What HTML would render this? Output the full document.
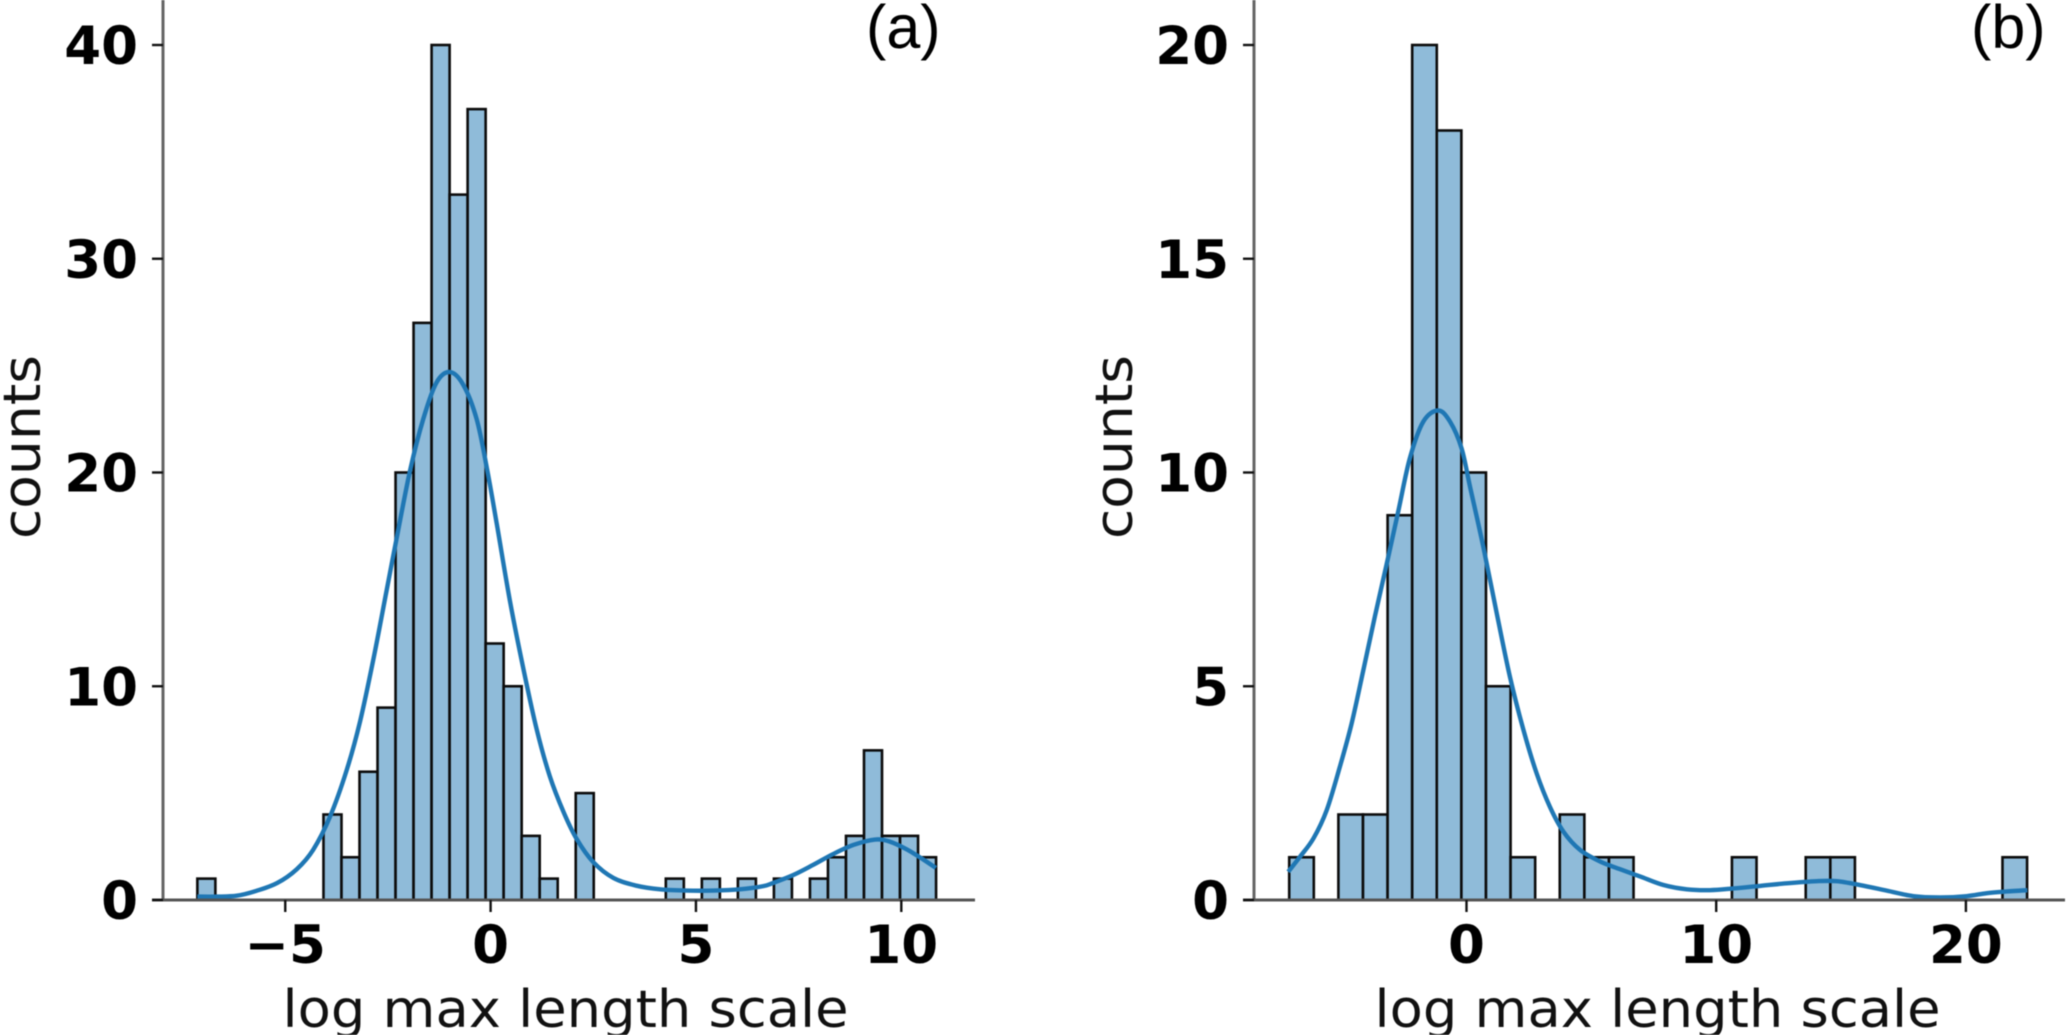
<!DOCTYPE html>
<html lang="en">
<head>
<meta charset="utf-8">
<title>Histograms of log max length scale</title>
<style>
html,body{margin:0;padding:0;background:#fff;width:2067px;height:1035px;overflow:hidden}
svg{display:block;filter:blur(0.5px)}
.tick-label{font-family:"DejaVu Sans","Liberation Sans",sans-serif;font-weight:700;font-size:53px;fill:#000}
.axis-title{font-family:"DejaVu Sans","Liberation Sans",sans-serif;font-size:52px;fill:#111}
.panel-label{font-family:"Liberation Sans",sans-serif;font-size:61px;fill:#000}
</style>
</head>
<body>
<svg id="chart" xmlns="http://www.w3.org/2000/svg" width="2067" height="1035" viewBox="0 0 2067 1035"></svg>
<script>
// Panel (a) data
const aBinStart = -7.14;
const aBinWidth = 0.4387;
const aCounts = [1,0,0,0,0,0,0,4,2,6,9,20,27,40,33,37,12,10,3,1,0,5,0,0,0,0,1,0,1,0,1,0,1,0,1,2,3,7,3,3,2];
const aXTicks = [-5,0,5,10];
const aXTickLabels = ["\u22125","0","5","10"];
const aYTicks = [0,10,20,30,40];
const aYTickLabels = ["0","10","20","30","40"];
const aKdeX = [-7.14,-6.67,-6.18,-5.70,-5.20,-4.72,-4.32,-3.91,-3.51,-3.18,-2.85,-2.53,-2.29,-1.96,-1.64,-1.32,-0.99,-0.665,-0.34,-0.09,0.15,0.47,0.80,1.12,1.44,1.78,2.10,2.50,2.99,3.55,4.13,4.77,5.42,6.07,6.64,6.88,7.37,7.85,8.34,8.84,9.36,9.72,10.13,10.53,10.84];
const aKdeY = [0.16,0.16,0.2,0.43,0.79,1.44,2.35,3.9,6.04,8.34,11.3,14.5,16.9,20.1,22.5,24.2,24.7,24.1,22.5,20.2,17.6,14.0,10.8,8.0,5.8,4.1,2.84,1.77,1.03,0.67,0.5,0.44,0.44,0.5,0.65,0.8,1.17,1.64,2.15,2.58,2.83,2.73,2.37,1.9,1.5];

// Panel (b) data
const bBinStart = -7.1;
const bBinWidth = 0.985;
const bCounts = [1,0,2,2,9,20,18,10,5,1,0,2,1,1,0,0,0,0,1,0,0,1,1,0,0,0,0,0,0,1];
const bXTicks = [0,10,20];
const bXTickLabels = ["0","10","20"];
const bYTicks = [0,5,10,15,20];
const bYTickLabels = ["0","5","10","15","20"];
const bKdeX = [-7.14,-6.67,-6.13,-5.6,-5.07,-4.6,-4.13,-3.67,-3.2,-2.73,-2.27,-1.73,-1.13,-0.66,-0.2,0.14,0.67,1.21,1.74,2.28,2.81,3.34,3.88,4.55,5.35,6.15,6.95,7.89,8.82,9.75,10.69,11.76,12.82,14.03,14.83,15.76,16.83,17.9,18.97,20.03,20.84,21.64,22.46];
const bKdeY = [0.66,1.01,1.44,2.1,3.12,4.13,5.38,6.63,7.85,9.1,10.33,11.19,11.45,11.19,10.57,9.67,8.27,6.71,5.22,3.98,2.96,2.18,1.6,1.17,0.9,0.72,0.55,0.35,0.25,0.23,0.27,0.33,0.39,0.44,0.44,0.35,0.22,0.09,0.06,0.09,0.16,0.2,0.23];

const xAxisTitle = "log max length scale";
const yAxisTitle = "counts";
const SVG_NS = "http://www.w3.org/2000/svg";
const chart = document.getElementById("chart");

function make(tag, attrs, parent) {
  const el = document.createElementNS(SVG_NS, tag);
  for (const k in attrs) el.setAttribute(k, attrs[k]);
  parent.appendChild(el);
  return el;
}

function smoothPath(pts) {
  let d = "M" + pts[0][0].toFixed(2) + "," + pts[0][1].toFixed(2);
  for (let i = 0; i < pts.length - 1; i++) {
    const p0 = pts[Math.max(i - 1, 0)];
    const p1 = pts[i];
    const p2 = pts[i + 1];
    const p3 = pts[Math.min(i + 2, pts.length - 1)];
    const c1x = p1[0] + (p2[0] - p0[0]) / 6;
    const c1y = p1[1] + (p2[1] - p0[1]) / 6;
    const c2x = p2[0] - (p3[0] - p1[0]) / 6;
    const c2y = p2[1] - (p3[1] - p1[1]) / 6;
    d += "C" + c1x.toFixed(2) + "," + c1y.toFixed(2) + " " + c2x.toFixed(2) + "," + c2y.toFixed(2) + " " + p2[0].toFixed(2) + "," + p2[1].toFixed(2);
  }
  return d;
}

function drawPanel(cfg) {
  const g = make("g", {}, chart);
  
  
  const sx = v => cfg.x0 + v * cfg.xScale;
  const sy = v => cfg.yBase - v * cfg.yScale;

  cfg.counts.forEach((c, i) => {
    const left = sx(cfg.binStart + i * cfg.binWidth);
    const right = sx(cfg.binStart + (i + 1) * cfg.binWidth);
    const bar = make("rect", {x: left, y: sy(c), width: right - left, height: sy(0) - sy(c), fill: "#8fbbd9", stroke: "#0c0c0c", "stroke-width": 2.6}, g);
    
    
  });

  const pts = cfg.kdeX.map((x, i) => [sx(x), sy(cfg.kdeY[i])]);
  const kde = make("path", {d: smoothPath(pts), fill: "none", stroke: "#1f77b4", "stroke-width": 4.4, "stroke-linejoin": "round"}, g);
  
  

  const ySpine = make("line", {x1: cfg.spineX, x2: cfg.spineX, y1: 0, y2: cfg.yBase + 1.5, stroke: "#666", "stroke-width": 3}, g);
  
  
  const xSpine = make("line", {x1: cfg.spineX - 11, x2: cfg.spineEnd, y1: cfg.yBase, y2: cfg.yBase, stroke: "#555", "stroke-width": 3}, g);
  
  

  cfg.yTicks.forEach((t, i) => {
    const tick = make("line", {x1: cfg.spineX - 11, x2: cfg.spineX, y1: sy(t), y2: sy(t), stroke: "#111", "stroke-width": 2.4}, g);
    
    
    const label = make("text", {x: cfg.spineX - 25, y: sy(t) + 19, "text-anchor": "end", class: "tick-label"}, g);
    label.textContent = cfg.yLabels[i];
    
    
  });

  cfg.xTicks.forEach((t, i) => {
    const tick = make("line", {x1: sx(t), x2: sx(t), y1: cfg.yBase, y2: cfg.yBase + 12, stroke: "#111", "stroke-width": 2.4}, g);
    
    
    const label = make("text", {x: sx(t), y: 963, "text-anchor": "middle", class: "tick-label"}, g);
    label.textContent = cfg.xLabels[i];
    
    
  });

  const xTitle = make("text", {x: cfg.xTitleX, y: 1027, "text-anchor": "middle", class: "axis-title", textLength: 566, lengthAdjust: "spacingAndGlyphs"}, g);
  xTitle.textContent = xAxisTitle;
  
  

  const yTitle = make("text", {transform: "translate(" + cfg.yTitleX + ",447) rotate(-90)", "text-anchor": "middle", class: "axis-title", textLength: 184, lengthAdjust: "spacingAndGlyphs"}, g);
  yTitle.textContent = yAxisTitle;
  
  

  const tag = make("text", {x: cfg.tagX, y: 48, class: "panel-label"}, g);
  tag.textContent = cfg.tag;
  
  
}

drawPanel({
  id: "panel-a", tag: "(a)", tagX: 866, x0: 490.6, xScale: 41.07, yBase: 900, yScale: 21.375,
  spineX: 163, spineEnd: 975, xTitleX: 565.5, yTitleX: 40,
  binStart: aBinStart, binWidth: aBinWidth, counts: aCounts, kdeX: aKdeX, kdeY: aKdeY,
  xTicks: aXTicks, xLabels: aXTickLabels, yTicks: aYTicks, yLabels: aYTickLabels
});

drawPanel({
  id: "panel-b", tag: "(b)", tagX: 1971, x0: 1466.5, xScale: 24.97, yBase: 900, yScale: 42.75,
  spineX: 1254, spineEnd: 2065, xTitleX: 1657.5, yTitleX: 1132,
  binStart: bBinStart, binWidth: bBinWidth, counts: bCounts, kdeX: bKdeX, kdeY: bKdeY,
  xTicks: bXTicks, xLabels: bXTickLabels, yTicks: bYTicks, yLabels: bYTickLabels
});
</script>
</body>
</html>
